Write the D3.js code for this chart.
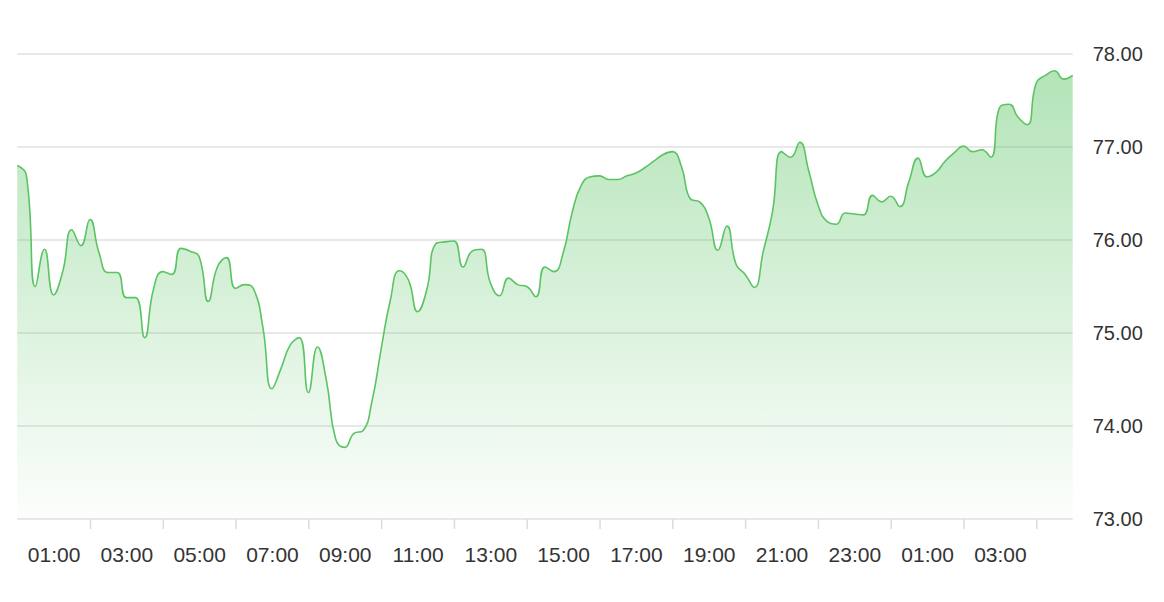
<!DOCTYPE html>
<html>
<head>
<meta charset="utf-8">
<script src="https://cdn.jsdelivr.net/npm/d3@7"></script>
<style>
  body { margin: 0; background: #fff; }
  svg { display: block; font-family: "Liberation Sans", Arial, Helvetica, sans-serif; }
</style>
</head>
<body>
<script>
// price sampled every 15 minutes, from 00:00 to 05:00 the next day
var startTime = "2024-01-01 00:00";
var stepMinutes = 15;
var prices = [
  76.80, 76.70, 75.50, 75.90, 75.41, 75.66, 76.11, 75.94,   // 00:00 - 01:45
  76.22, 75.86, 75.65, 75.65, 75.38, 75.38, 74.95, 75.48,   // 02:00 - 03:45
  75.66, 75.63, 75.91, 75.88, 75.82, 75.34, 75.71, 75.81,   // 04:00 - 05:45
  75.48, 75.52, 75.47, 75.06, 74.40, 74.62, 74.87, 74.95,   // 06:00 - 07:45
  74.36, 74.85, 74.48, 73.86, 73.77, 73.92, 73.95, 74.27,   // 08:00 - 09:45
  74.83, 75.35, 75.67, 75.57, 75.23, 75.46, 75.96, 75.98,   // 10:00 - 11:45
  75.99, 75.71, 75.88, 75.90, 75.54, 75.40, 75.59, 75.52,   // 12:00 - 13:45
  75.50, 75.39, 75.71, 75.66, 75.86, 76.30, 76.59, 76.68,   // 14:00 - 15:45
  76.69, 76.65, 76.65, 76.69, 76.72, 76.78, 76.85, 76.92,   // 16:00 - 17:45
  76.95, 76.79, 76.44, 76.41, 76.24, 75.89, 76.15, 75.74,   // 18:00 - 19:45
  75.63, 75.49, 75.88, 76.30, 76.95, 76.89, 77.05, 76.74,   // 20:00 - 21:45
  76.38, 76.20, 76.17, 76.29, 76.28, 76.27, 76.48, 76.41,   // 22:00 - 23:45
  76.47, 76.36, 76.63, 76.88, 76.68, 76.73, 76.85, 76.94,   // 00:00 - 01:45
  77.01, 76.95, 76.97, 76.89, 77.43, 77.46, 77.32, 77.24,   // 02:00 - 03:45
  77.69, 77.77, 77.82, 77.73, 77.77                         // 04:00 - 05:00
];
var yTicks = [73, 74, 75, 76, 77, 78];

var W = 1164, H = 602;
var plotL = 17.2, plotR = 1072.7, plotT = 54, plotB = 519;

// smoothing like echarts' "smooth: true" (bezier, control length by segment ratio, clamped)
function clamp(v, a, b) { return Math.max(Math.min(v, Math.max(a, b)), Math.min(a, b)); }
function SmoothCurve(context) { this._context = context; }
SmoothCurve.prototype = {
  areaStart: function() { this._line = 0; },
  areaEnd: function() { this._line = NaN; },
  lineStart: function() { this._xs = []; this._ys = []; },
  point: function(x, y) { this._xs.push(+x); this._ys.push(+y); },
  lineEnd: function() {
    var ctx = this._context, xs = this._xs, ys = this._ys, n = xs.length, s = 0.5;
    if (n) {
      if (this._line) ctx.lineTo(xs[0], ys[0]); else ctx.moveTo(xs[0], ys[0]);
      var cpx0 = xs[0], cpy0 = ys[0];
      for (var i = 1; i < n; i++) {
        var x = xs[i], y = ys[i], px = xs[i - 1], py = ys[i - 1];
        var cpx1 = x, cpy1 = y, ncx = x, ncy = y;
        if (i < n - 1) {
          var nx = xs[i + 1], ny = ys[i + 1];
          var vx = nx - px, vy = ny - py;
          var l0 = Math.hypot(x - px, y - py), l1 = Math.hypot(nx - x, ny - y);
          var r = l1 / (l0 + l1);
          ncx = clamp(x + vx * s * r, x, nx);
          ncy = clamp(y + vy * s * r, y, ny);
          vx = ncx - x; vy = ncy - y;
          cpx1 = clamp(x - vx * l0 / l1, px, x);
          cpy1 = clamp(y - vy * l0 / l1, py, y);
          vx = x - cpx1; vy = y - cpy1;
          ncx = x + vx * l1 / l0;
          ncy = y + vy * l1 / l0;
        }
        ctx.bezierCurveTo(cpx0, cpy0, cpx1, cpy1, x, y);
        cpx0 = ncx; cpy0 = ncy;
      }
    }
    if (this._line || (this._line !== 0 && n === 1)) ctx.closePath();
    this._line = 1 - this._line;
  }
};
function smoothCurve(context) { return new SmoothCurve(context); }

var parse = d3.timeParse("%Y-%m-%d %H:%M");
var t0 = parse(startTime);
var data = prices.map(function(v, i) {
  return { t: d3.timeMinute.offset(t0, i * stepMinutes), v: v };
});

var x = d3.scaleTime()
  .domain(d3.extent(data, function(d) { return d.t; }))
  .range([plotL, plotR]);
var y = d3.scaleLinear().domain([73, 78]).range([plotB, plotT]);

var svg = d3.select("body").append("svg")
  .attr("width", W)
  .attr("height", H);

var grad = svg.append("defs").append("linearGradient")
  .attr("id", "fillGrad")
  .attr("x1", 0).attr("y1", 0).attr("x2", 0).attr("y2", 1);
grad.append("stop").attr("offset", "0%").attr("stop-color", "#5ac463").attr("stop-opacity", 0.46);
grad.append("stop").attr("offset", "100%").attr("stop-color", "#5ac463").attr("stop-opacity", 0.02);

// horizontal grid
svg.append("g").selectAll("line")
  .data(yTicks)
  .enter().append("line")
  .attr("x1", plotL).attr("x2", plotR)
  .attr("y1", function(d) { return y(d); })
  .attr("y2", function(d) { return y(d); })
  .attr("stroke", "#e0e0e0")
  .attr("stroke-width", 1.5);

var area = d3.area()
  .x(function(d) { return x(d.t); })
  .y0(plotB)
  .y1(function(d) { return y(d.v); })
  .curve(smoothCurve);

var line = d3.line()
  .x(function(d) { return x(d.t); })
  .y(function(d) { return y(d.v); })
  .curve(smoothCurve);

svg.append("path")
  .datum(data)
  .attr("d", area)
  .attr("fill", "url(#fillGrad)");

svg.append("path")
  .datum(data)
  .attr("d", line)
  .attr("fill", "none")
  .attr("stroke", "#5ac463")
  .attr("stroke-width", 1.6)
  .attr("stroke-linejoin", "round");

// tick marks on even hours, labels on odd hours
var evenHours = d3.timeHour.every(2).range(x.domain()[0], x.domain()[1]).filter(function(d) { return +d > +x.domain()[0]; });
var oddHours = d3.timeHour.range(x.domain()[0], x.domain()[1]).filter(function(d) { return d.getHours() % 2 === 1; });

var tickAxis = svg.append("g")
  .attr("transform", "translate(0," + plotB + ")")
  .call(d3.axisBottom(x).tickValues(evenHours).tickSize(10).tickFormat(""));
tickAxis.select(".domain").remove();
tickAxis.selectAll(".tick line").attr("stroke", "#dcdcdc").attr("stroke-width", 1.5);

var labelAxis = svg.append("g")
  .attr("transform", "translate(0," + plotB + ")")
  .call(d3.axisBottom(x).tickValues(oddHours).tickSize(0).tickPadding(28).tickFormat(d3.timeFormat("%H:%M")));
labelAxis.select(".domain").remove();
labelAxis.selectAll("text")
  .attr("fill", "#333")
  .style("font-size", "21px")
  .style("font-family", "'Liberation Sans', Arial, sans-serif");

var yAxis = svg.append("g")
  .attr("transform", "translate(" + plotR + ",0)")
  .call(d3.axisRight(y).tickValues(yTicks).tickSize(0).tickPadding(20).tickFormat(d3.format(".2f")));
yAxis.select(".domain").remove();
yAxis.selectAll("text")
  .attr("fill", "#333")
  .style("font-size", "20px")
  .style("font-family", "'Liberation Sans', Arial, sans-serif");
</script>
</body>
</html>
